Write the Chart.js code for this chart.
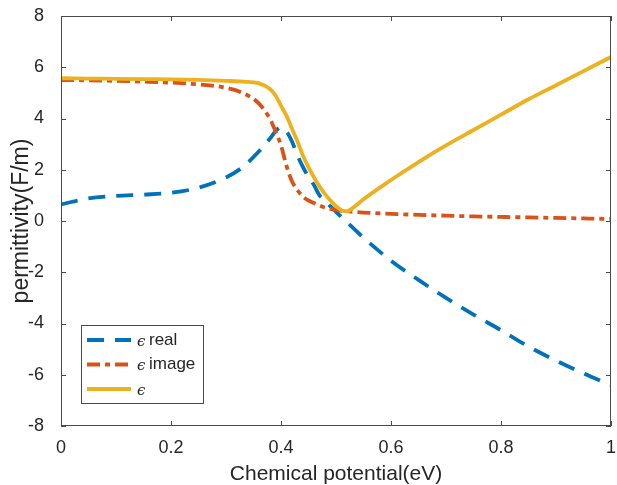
<!DOCTYPE html>
<html>
<head>
<meta charset="utf-8">
<script src="https://cdn.jsdelivr.net/npm/chart.js@4.4.1/dist/chart.umd.min.js"></script>
<style>
    html, body { margin: 0; padding: 0; background: #fff; }
    #wrap { width: 617px; height: 485px; }
</style>
</head>
<body>
<div id="wrap"><canvas id="perm-chart" width="617" height="485"></canvas></div>
<script>
// chemical potential (eV)
const potential = [0, 0.05, 0.1, 0.15, 0.2, 0.25, 0.3, 0.33, 0.36, 0.38, 0.39, 0.4, 0.41, 0.42, 0.43, 0.44, 0.45, 0.46, 0.47, 0.48, 0.49, 0.5, 0.51, 0.52, 0.53, 0.55, 0.6, 0.65, 0.7, 0.75, 0.8, 0.85, 0.9, 0.95, 1.0];

const epsReal = [0.65, 0.88, 0.98, 1.03, 1.1, 1.3, 1.7, 2.1, 2.72, 3.22, 3.5, 3.66, 3.5, 3.1, 2.55, 2.1, 1.72, 1.4, 1.0, 0.8, 0.57, 0.36, 0.15, -0.05, -0.25, -0.65, -1.55, -2.3, -3.0, -3.65, -4.26, -4.9, -5.45, -5.95, -6.4];
const epsImage = [5.5, 5.49, 5.47, 5.44, 5.4, 5.33, 5.2, 5.0, 4.58, 3.98, 3.5, 2.95, 2.15, 1.55, 1.2, 0.95, 0.8, 0.7, 0.6, 0.52, 0.47, 0.43, 0.4, 0.38, 0.36, 0.33, 0.28, 0.24, 0.21, 0.18, 0.16, 0.14, 0.12, 0.1, 0.08];
const epsAbs = [5.57, 5.56, 5.55, 5.54, 5.53, 5.51, 5.47, 5.44, 5.37, 5.15, 4.9, 4.5, 4.1, 3.6, 3.1, 2.55, 2.1, 1.7, 1.35, 1.05, 0.8, 0.58, 0.42, 0.38, 0.5, 0.85, 1.6, 2.3, 2.95, 3.55, 4.15, 4.75, 5.3, 5.85, 6.4];

const xTicks = [0, 0.2, 0.4, 0.6, 0.8, 1];
const yTicks = [-8, -6, -4, -2, 0, 2, 4, 6, 8];

const FONT = "'Liberation Sans', Arial, sans-serif";
const TXT = '#262626';

function pts(ys) {
    return potential.map((x, i) => ({ x: x, y: ys[i] }));
}

// box around plot area, inward ticks on all four sides, legend inside
const frame = {
    id: 'frame',
    afterDatasetsDraw(chart) {
        const { ctx, chartArea: a, scales } = chart;
        ctx.save();
        ctx.strokeStyle = '#4a4a4a';
        ctx.lineWidth = 1;
        ctx.strokeRect(a.left + 0.5, a.top + 0.5, a.right - a.left - 1, a.bottom - a.top - 1);
        ctx.beginPath();
        xTicks.forEach(v => {
            const px = Math.round(scales.x.getPixelForValue(v)) + 0.5;
            ctx.moveTo(px, a.bottom); ctx.lineTo(px, a.bottom - 5);
            ctx.moveTo(px, a.top); ctx.lineTo(px, a.top + 5);
        });
        yTicks.forEach(v => {
            const py = Math.round(scales.y.getPixelForValue(v)) + 0.5;
            ctx.moveTo(a.left, py); ctx.lineTo(a.left + 5, py);
            ctx.moveTo(a.right, py); ctx.lineTo(a.right - 5, py);
        });
        ctx.stroke();

        // legend
        const lx = a.left + 20, ly = a.bottom - 101, lw = 122, lh = 78;
        ctx.fillStyle = '#fff';
        ctx.fillRect(lx, ly, lw, lh);
        ctx.strokeStyle = '#4a4a4a';
        ctx.strokeRect(lx + 0.5, ly + 0.5, lw, lh);
        const names = ['real', 'image', ''];
        const order = [2, 1, 0];
        order.forEach((di, row) => {
            const ds = chart.data.datasets[di];
            const y = ly + 15 + row * 24.5;
            ctx.strokeStyle = ds.borderColor;
            ctx.lineWidth = ds.borderWidth;
            ctx.setLineDash(ds.borderDash || []);
            ctx.beginPath();
            ctx.moveTo(lx + 6, y); ctx.lineTo(lx + 50, y);
            ctx.stroke();
            ctx.setLineDash([]);
            ctx.fillStyle = TXT;
            ctx.textBaseline = 'middle';
            ctx.font = "italic 15px 'DejaVu Serif', serif";
            ctx.fillText('\u03F5', lx + 56, y + 2);
            ctx.font = '17px ' + FONT;
            ctx.fillText(names[row], lx + 68, y);
        });
        ctx.restore();
    }
};

new Chart(document.getElementById('perm-chart').getContext('2d'), {
    type: 'line',
    data: {
        datasets: [
            {
                label: '\u03F5',
                data: pts(epsAbs),
                borderColor: '#EDB120',
                borderWidth: 3.8,
                pointRadius: 0,
                cubicInterpolationMode: 'monotone',
                order: 0
            },
            {
                label: '\u03F5 image',
                data: pts(epsImage),
                borderColor: '#D95319',
                borderWidth: 3.8,
                borderDash: [13, 5, 5, 5],
                pointRadius: 0,
                cubicInterpolationMode: 'monotone',
                order: 1
            },
            {
                label: '\u03F5 real',
                data: pts(epsReal),
                borderColor: '#0072BD',
                borderWidth: 3.8,
                borderDash: [17, 11],
                pointRadius: 0,
                cubicInterpolationMode: 'monotone',
                order: 2
            }
        ]
    },
    options: {
        responsive: false,
        animation: false,
        layout: { padding: { top: 16, right: 6, left: 0, bottom: 0 } },
        plugins: {
            legend: { display: false },
            tooltip: { enabled: false }
        },
        scales: {
            x: {
                type: 'linear',
                min: 0,
                max: 1,
                afterFit: s => { s.height = 59; s.paddingLeft = 0; s.paddingRight = 0; },
                afterBuildTicks: s => { s.ticks = xTicks.map(v => ({ value: v })); },
                grid: { display: false },
                border: { display: false },
                ticks: {
                    padding: 3,
                    color: TXT,
                    font: { family: FONT, size: 18 },
                    maxRotation: 0,
                    autoSkip: false,
                    callback: v => String(v)
                },
                title: {
                    display: true,
                    text: 'Chemical potential(eV)',
                    color: TXT,
                    font: { family: FONT, size: 21 },
                    padding: { top: 0, bottom: -2 }
                }
            },
            y: {
                min: -8,
                max: 8,
                afterFit: s => { s.width = 61; s.paddingTop = 0; s.paddingBottom = 0; },
                afterBuildTicks: s => { s.ticks = yTicks.map(v => ({ value: v })); },
                grid: { display: false },
                border: { display: false },
                ticks: {
                    padding: 9,
                    color: TXT,
                    font: { family: FONT, size: 18 },
                    callback: v => String(v)
                },
                title: {
                    display: true,
                    text: 'permittivity(F/m)',
                    color: TXT,
                    font: { family: FONT, size: 23 },
                    padding: { top: 8, bottom: 0 }
                }
            }
        }
    },
    plugins: [frame]
});
</script>
</body>
</html>
